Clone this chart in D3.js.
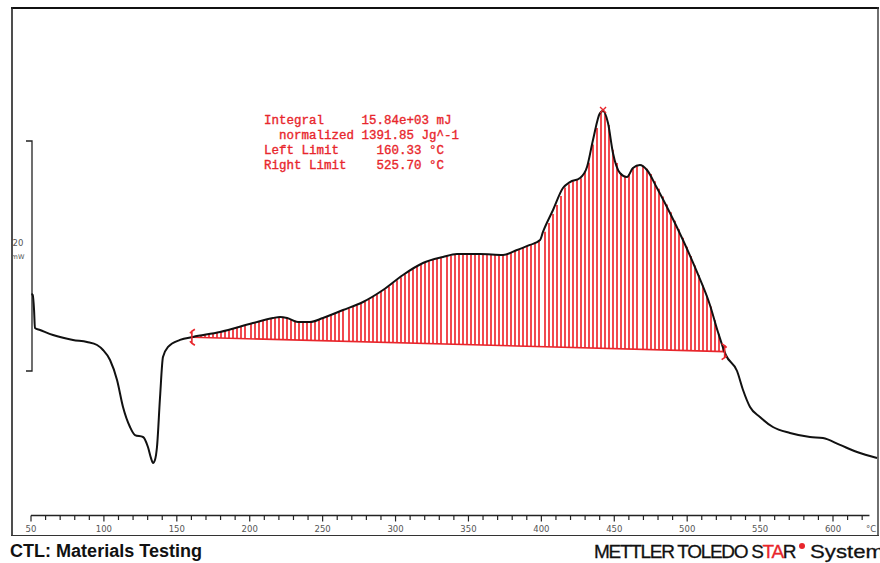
<!DOCTYPE html>
<html>
<head>
<meta charset="utf-8">
<script src="https://cdn.jsdelivr.net/npm/d3@7"></script>
<style>
  html, body { margin: 0; padding: 0; background: #fff; }
  svg { display: block; }
</style>
</head>
<body>
<svg id="chart" width="880" height="563"></svg>
<script>
// ---------- data ----------
const temperature = [50.3, 51.2, 52.1, 52.7, 56.2, 65.1, 78.8, 88.4, 95.3, 99.4, 104.2, 109.0, 113.1, 117.9, 121.3, 126.8, 130.2, 132.3, 133.7, 135.0, 136.4, 138.5, 140.5, 144.0, 152.2, 161.1, 179.6, 202.2, 216.0, 220.8, 225.6, 233.1, 241.3, 250.2, 264.0, 277.7, 291.4, 305.1, 318.8, 332.5, 342.1, 357.9, 373.7, 383.3, 392.2, 399.1, 401.1, 408.0, 414.8, 419.6, 426.5, 431.3, 435.4, 440.2, 442.3, 445.7, 449.1, 453.9, 458.7, 462.8, 467.6, 472.4, 479.3, 488.2, 497.1, 506.7, 515.6, 521.1, 526.5, 534.2, 538.3, 543.1, 549.9, 558.8, 570.5, 584.2, 593.1, 604.8, 616.5, 630.2];
const heatFlow = [6.70, 6.61, 5.30, 3.74, 3.57, 3.13, 2.70, 2.52, 2.26, 1.83, 0.96, -0.78, -3.13, -4.87, -5.57, -5.74, -6.61, -7.57, -8.00, -7.74, -6.61, -2.26, 1.22, 2.09, 2.70, 2.96, 3.39, 4.17, 4.61, 4.70, 4.61, 4.26, 4.26, 4.61, 5.30, 6.00, 7.04, 8.35, 9.39, 9.91, 10.17, 10.17, 10.09, 10.52, 10.96, 11.39, 12.09, 14.00, 15.91, 16.43, 16.78, 17.74, 20.09, 22.43, 22.61, 21.57, 18.96, 17.22, 16.87, 17.65, 17.91, 17.48, 15.91, 13.74, 11.39, 8.61, 5.74, 3.39, 1.39, 0.00, -1.65, -3.13, -4.00, -4.87, -5.39, -5.74, -5.83, -6.43, -7.04, -7.57];

const leftLimit = 160.33;
const rightLimit = 525.70;
const hatchStep = 2.8; // °C between hatch lines

const xTickValues = d3.range(50, 621, 10);
const xLabelValues = [50, 100, 150, 200, 250, 300, 350, 400, 450, 500, 550, 600];
const xUnit = "°C";
const yScaleBar = [0, 20];
const yScaleLabel = ["20", "mW"];

const resultLines = [
  "Integral     15.84e+03 mJ",
  "  normalized 1391.85 Jg^-1",
  "Left Limit     160.33 °C",
  "Right Limit    525.70 °C"
];
const footerLeft = "CTL: Materials Testing";

// ---------- setup ----------
const svg = d3.select("#chart");
const RED = "#e8262c";
const x = d3.scaleLinear().domain([50, 600]).range([31, 833]);
const y = d3.scaleLinear().domain([0, 20]).range([371, 141]);

const pts = temperature.map((t, i) => ({ t, v: heatFlow[i] }));
const bis = d3.bisector(d => d.t).left;
function curveAt(t) {
  let i = bis(pts, t);
  if (i <= 0) return pts[0].v;
  if (i >= pts.length) return pts[pts.length - 1].v;
  const a = pts[i - 1], b = pts[i];
  return a.v + (b.v - a.v) * (t - a.t) / (b.t - a.t);
}
const baseL = curveAt(leftLimit), baseR = curveAt(rightLimit);
const baseAt = t => baseL + (baseR - baseL) * (t - leftLimit) / (rightLimit - leftLimit);

// ---------- frame ----------
svg.append("line").attr("x1", 11).attr("x2", 879).attr("y1", 8).attr("y2", 8)
  .attr("stroke", "#111").attr("stroke-width", 2.2);
svg.append("line").attr("x1", 12).attr("x2", 12).attr("y1", 7).attr("y2", 535.5)
  .attr("stroke", "#222").attr("stroke-width", 1.6);
svg.append("line").attr("x1", 878).attr("x2", 878).attr("y1", 7).attr("y2", 535.5)
  .attr("stroke", "#333").attr("stroke-width", 1.4);
svg.append("line").attr("x1", 11).attr("x2", 879).attr("y1", 535.5).attr("y2", 535.5)
  .attr("stroke", "#333").attr("stroke-width", 1.2);

// ---------- x axis ----------
const axisY = 515.5;
const ax = svg.append("g").attr("class", "xaxis");
ax.append("line").attr("x1", x(50)).attr("x2", x(625)).attr("y1", axisY).attr("y2", axisY)
  .attr("stroke", "#222").attr("stroke-width", 1.4);
ax.selectAll("line.tick").data(xTickValues).join("line").attr("class", "tick")
  .attr("x1", d => x(d)).attr("x2", d => x(d))
  .attr("y1", axisY).attr("y2", d => axisY + (d % 50 === 0 ? 6 : 4.5))
  .attr("stroke", "#222").attr("stroke-width", 1.2);
ax.selectAll("text.lab").data(xLabelValues).join("text").attr("class", "lab")
  .attr("x", d => x(d)).attr("y", 532)
  .attr("text-anchor", "middle").attr("font-family", "DejaVu Sans, sans-serif")
  .attr("font-size", 8.5).attr("fill", "#555").text(d => d);
ax.append("text").attr("x", 871).attr("y", 532).attr("text-anchor", "middle")
  .attr("font-family", "DejaVu Sans, sans-serif").attr("font-size", 8.5).attr("fill", "#555").text(xUnit);

// ---------- y scale bar ----------
const yb = svg.append("g");
const xb = 32;
yb.append("path")
  .attr("d", `M${xb - 6},${y(yScaleBar[1])}H${xb}V${y(yScaleBar[0])}H${xb - 6}`)
  .attr("fill", "none").attr("stroke", "#222").attr("stroke-width", 1.3);
yb.selectAll("text").data(yScaleLabel).join("text")
  .attr("x", 18).attr("y", (d, i) => 246 + i * 13).attr("text-anchor", "middle")
  .attr("font-family", "DejaVu Sans, sans-serif").attr("fill", "#555")
  .attr("font-size", (d, i) => i === 0 ? 8.5 : 6.5)
  .text(d => d);

// ---------- hatching (aligned to 2-px cells so the red stays red) ----------
const hatchTs = d3.range(leftLimit, rightLimit, hatchStep).concat([rightLimit]);
const snap = v => 2 * Math.round(v / 2) + 1;
svg.append("g").selectAll("line").data(hatchTs).join("line")
  .attr("x1", d => snap(x(d))).attr("x2", d => snap(x(d)))
  .attr("y1", d => y(baseAt(d))).attr("y2", d => y(curveAt(d)))
  .attr("stroke", "#ee1c24").attr("stroke-width", 1.6);

// baseline
svg.append("line")
  .attr("x1", x(leftLimit)).attr("y1", y(baseL)).attr("x2", x(rightLimit)).attr("y2", y(baseR))
  .attr("stroke", RED).attr("stroke-width", 1.6);

// ---------- curve ----------
const line = d3.line().x(d => x(d.t)).y(d => y(d.v)).curve(d3.curveMonotoneX);
svg.append("path").datum(pts).attr("d", line)
  .attr("fill", "none").attr("stroke", "#111").attr("stroke-width", 2).attr("stroke-linejoin", "round");

// ---------- limit markers ----------
function limitMarker(t, v, dir) {
  const cx = x(t), cy = y(v);
  svg.append("path")
    .attr("d", `M${cx + 3 * dir},${cy - 8}L${cx},${cy - 6}V${cy + 6}L${cx + 3 * dir},${cy + 8}` +
               `M${cx},${cy - 6}L${cx - 2 * dir},${cy - 4}M${cx},${cy + 6}L${cx - 2 * dir},${cy + 4}`)
    .attr("fill", "none").attr("stroke", RED).attr("stroke-width", 1.6);
}
limitMarker(leftLimit, baseL, 1);
limitMarker(rightLimit, baseR, -1);

// peak marker
const peak = pts.reduce((a, b) => (b.v > a.v ? b : a));
svg.append("path")
  .attr("d", `M${x(peak.t) - 3},${y(peak.v) - 4}l6,6M${x(peak.t) + 3},${y(peak.v) - 4}l-6,6`)
  .attr("stroke", RED).attr("stroke-width", 1.4);

// ---------- result text ----------
svg.append("g").selectAll("text").data(resultLines).join("text")
  .attr("x", 264).attr("y", (d, i) => 124 + i * 15)
  .attr("font-family", "Liberation Mono, Courier New, monospace").attr("font-size", 12.5)
  .attr("fill", RED).attr("stroke", RED).attr("stroke-width", 0.35)
  .style("white-space", "pre").text(d => d);

// ---------- footer ----------
svg.append("text").attr("x", 10).attr("y", 557)
  .attr("font-family", "Liberation Sans, Arial, sans-serif").attr("font-size", 18).attr("font-weight", "bold")
  .attr("fill", "#111").attr("textLength", 192).attr("lengthAdjust", "spacingAndGlyphs")
  .text(footerLeft);

const brand = svg.append("text").attr("x", 594).attr("y", 558)
  .attr("font-family", "Liberation Sans, Arial, sans-serif").attr("font-size", 19)
  .attr("fill", "#111").attr("stroke", "#111").attr("stroke-width", 0.3)
  .attr("letter-spacing", -1.3);
brand.append("tspan").text("METTLER TOLEDO S");
brand.append("tspan").attr("fill", RED).attr("stroke", RED).text("TA");
brand.append("tspan").text("R");
svg.append("circle").attr("cx", 802).attr("cy", 546).attr("r", 3).attr("fill", RED);
svg.append("text").attr("x", 810).attr("y", 558)
  .attr("font-family", "Liberation Sans, Arial, sans-serif").attr("font-size", 19)
  .attr("fill", "#111").attr("stroke", "#111").attr("stroke-width", 0.3)
  .attr("textLength", 74).attr("lengthAdjust", "spacingAndGlyphs").text("System");
</script>
</body>
</html>
